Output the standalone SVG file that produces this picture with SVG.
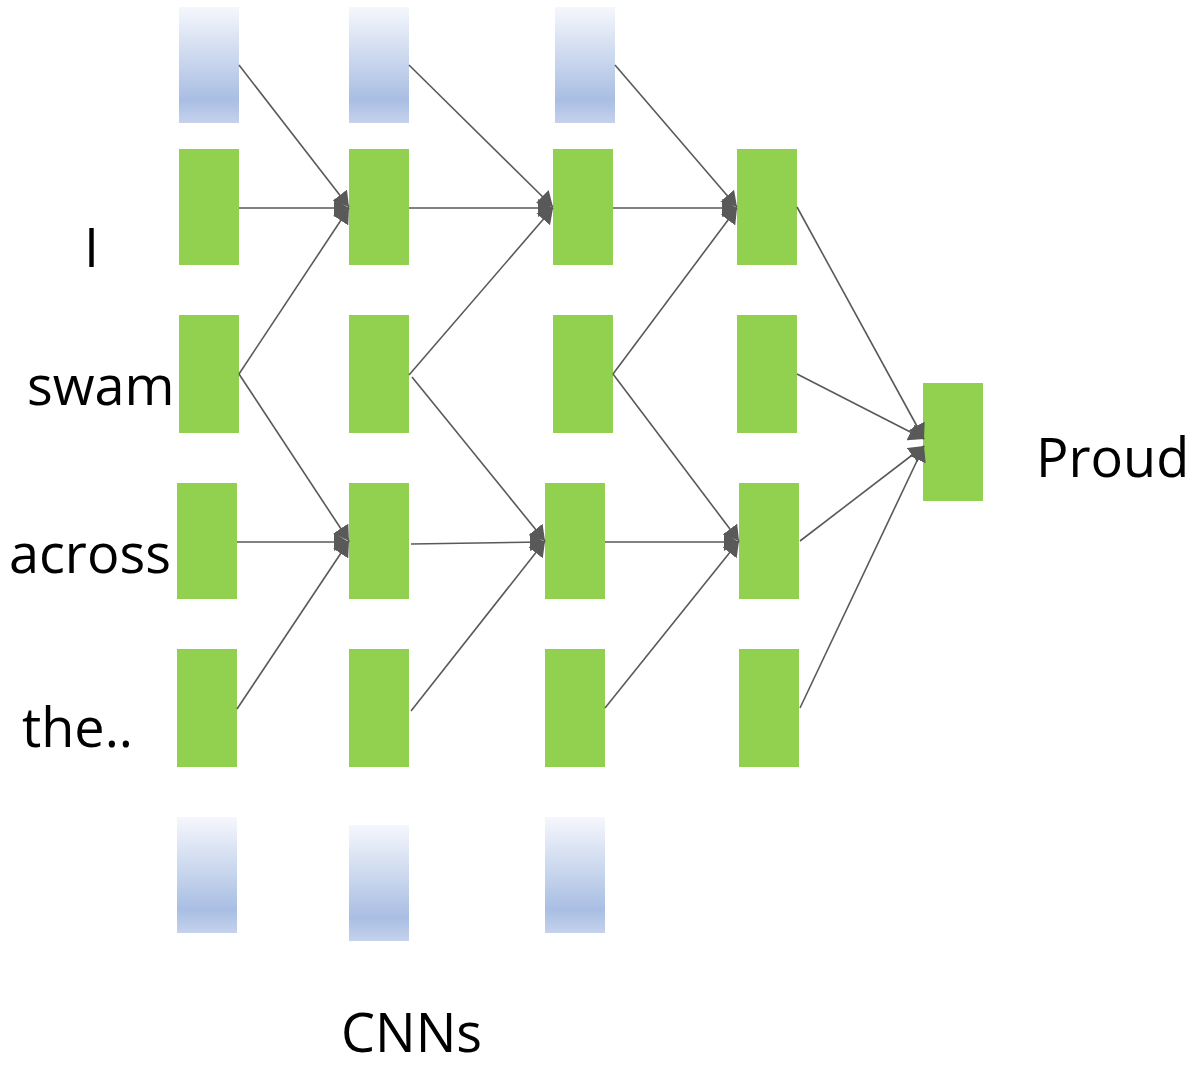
<svg xmlns="http://www.w3.org/2000/svg" width="1192" height="1067" viewBox="0 0 1192 1067">
<defs>
<linearGradient id="blu" x1="0" y1="0" x2="0" y2="1">
<stop offset="0" stop-color="#f5f7fc"/>
<stop offset="0.8" stop-color="#a9bee3"/>
<stop offset="1" stop-color="#c5d2ec"/>
</linearGradient>
<marker id="ah" markerUnits="userSpaceOnUse" markerWidth="16" markerHeight="18" refX="15" refY="9" orient="auto">
<path d="M0,0 L15,9 L0,18 Z" fill="#595959"/>
</marker>
<style>
.g{fill:#92d050}
.b{fill:url(#blu)}
.c{stroke:#595959;stroke-width:1.6;fill:none;marker-end:url(#ah)}
.t{font-family:"Open Sans","Liberation Sans",sans-serif;font-size:54px;fill:#000}
</style>
</defs>
<rect width="1192" height="1067" fill="#ffffff"/>
<g id="pads">
<rect id="pad-t0" class="b" x="179" y="7" width="60" height="116"/>
<rect id="pad-t1" class="b" x="349" y="7" width="60" height="116"/>
<rect id="pad-t2" class="b" x="555" y="7" width="60" height="116"/>
<rect id="pad-b0" class="b" x="177" y="817" width="60" height="116"/>
<rect id="pad-b1" class="b" x="349" y="825" width="60" height="116"/>
<rect id="pad-b2" class="b" x="545" y="817" width="60" height="116"/>
</g>
<g id="n00"><rect class="g" x="179" y="149" width="60" height="116"/></g>
<g id="n01"><rect class="g" x="179" y="315" width="60" height="118"/></g>
<g id="n02"><rect class="g" x="177" y="483" width="60" height="116"/></g>
<g id="n03"><rect class="g" x="177" y="649" width="60" height="118"/></g>
<g id="n10"><rect class="g" x="349" y="149" width="60" height="116"/></g>
<g id="n11"><rect class="g" x="349" y="315" width="60" height="118"/></g>
<g id="n12"><rect class="g" x="349" y="483" width="60" height="116"/></g>
<g id="n13"><rect class="g" x="349" y="649" width="60" height="118"/></g>
<g id="n20"><rect class="g" x="553" y="149" width="60" height="116"/></g>
<g id="n21"><rect class="g" x="553" y="315" width="60" height="118"/></g>
<g id="n22"><rect class="g" x="545" y="483" width="60" height="116"/></g>
<g id="n23"><rect class="g" x="545" y="649" width="60" height="118"/></g>
<g id="n30"><rect class="g" x="737" y="149" width="60" height="116"/></g>
<g id="n31"><rect class="g" x="737" y="315" width="60" height="118"/></g>
<g id="n32"><rect class="g" x="739" y="483" width="60" height="116"/></g>
<g id="n33"><rect class="g" x="739" y="649" width="60" height="118"/></g>
<g id="out"><rect class="g" x="923" y="383" width="60" height="118"/></g>
<g id="connectors">
<line class="c" x1="239" y1="65" x2="349" y2="207"/>
<line class="c" x1="239" y1="208" x2="349" y2="208"/>
<line class="c" x1="239" y1="374" x2="349" y2="208"/>
<line class="c" x1="239" y1="374" x2="349" y2="541"/>
<line class="c" x1="237" y1="542" x2="349" y2="542"/>
<line class="c" x1="237" y1="709" x2="349" y2="541"/>
<line class="c" x1="409" y1="65" x2="553" y2="207"/>
<line class="c" x1="409" y1="208" x2="553" y2="208"/>
<line class="c" x1="409" y1="375" x2="553" y2="208"/>
<line class="c" x1="412" y1="377" x2="545" y2="541"/>
<line class="c" x1="411" y1="544" x2="545" y2="542"/>
<line class="c" x1="411" y1="711" x2="545" y2="541"/>
<line class="c" x1="615" y1="65" x2="737" y2="207"/>
<line class="c" x1="613" y1="208" x2="737" y2="208"/>
<line class="c" x1="613" y1="374" x2="737" y2="208"/>
<line class="c" x1="613" y1="374" x2="739" y2="541"/>
<line class="c" x1="605" y1="542" x2="739" y2="542"/>
<line class="c" x1="605" y1="708" x2="739" y2="541"/>
<line class="c" x1="797" y1="207" x2="924" y2="439"/>
<line class="c" x1="797" y1="374" x2="924" y2="439"/>
<line class="c" x1="800" y1="541" x2="924" y2="446"/>
<line class="c" x1="800" y1="708" x2="924" y2="446"/>
</g>
<g id="labels">
<text class="t" x="84" y="267">I</text>
<text class="t" x="27" y="405">swam</text>
<text class="t" x="9" y="573">across</text>
<text class="t" x="22" y="747">the..</text>
<text class="t" x="1036" y="477">Proud</text>
<text class="t" x="341" y="1052">CNNs</text>
</g>
</svg>
